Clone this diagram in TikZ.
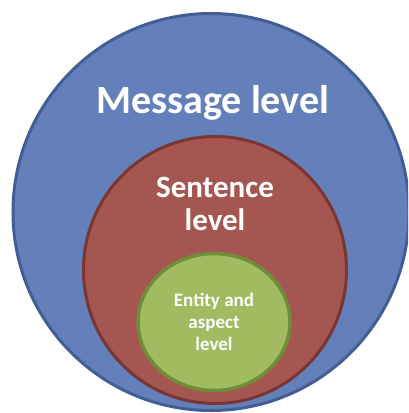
\documentclass[tikz,border=0pt]{standalone}
\usepackage{fontspec}
\setmainfont{Carlito}
\usetikzlibrary{shapes.geometric}
\definecolor{bluefill}{RGB}{100,128,186}
\definecolor{blueline}{RGB}{66,94,148}
\definecolor{redfill}{RGB}{165,86,80}
\definecolor{redline}{RGB}{122,54,50}
\definecolor{greenfill}{RGB}{160,187,96}
\definecolor{greenline}{RGB}{110,142,58}
\tikzset{
  levelshape/.style={ellipse, inner sep=0pt, line width=3pt},
  leveltext/.style={text=white, font=\bfseries, inner sep=0pt, anchor=base}
}
\begin{document}
\begin{tikzpicture}[x=1pt,y=-1pt]
\useasboundingbox (0,0) rectangle (408,413);
\begin{scope}
\clip (0,0) rectangle (408,413);
\node[levelshape, draw=blueline, fill=bluefill, minimum width=396pt, minimum height=397pt] (outer) at (211,212) {};
\node[levelshape, draw=redline, fill=redfill, minimum width=263pt, minimum height=267pt] (middle) at (215,270) {};
\node[levelshape, draw=greenline, fill=greenfill, line width=3.5pt, minimum width=152pt, minimum height=137pt] (inner) at (214,322) {};
\end{scope}
\node[leveltext, font=\bfseries\fontsize{40}{44}\selectfont] (msg) at (213,113) {Message level};
\node[leveltext, font=\bfseries\fontsize{31}{33}\selectfont] (sent1) at (215,197) {Sentence};
\node[leveltext, font=\bfseries\fontsize{31}{33}\selectfont] (sent2) at (215,230) {level};
\node[leveltext, font=\bfseries\fontsize{19}{22}\selectfont] (ent1) at (214,306) {Entity and};
\node[leveltext, font=\bfseries\fontsize{19}{22}\selectfont] (ent2) at (214,328) {aspect};
\node[leveltext, font=\bfseries\fontsize{19}{22}\selectfont] (ent3) at (214,350) {level};
\end{tikzpicture}
\end{document}
